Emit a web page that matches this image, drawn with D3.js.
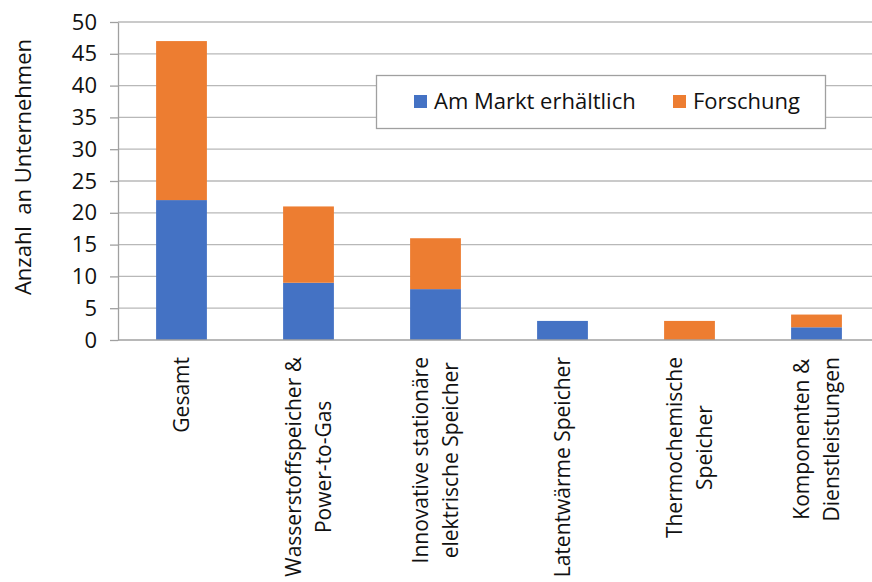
<!DOCTYPE html>
<html>
<head>
<meta charset="utf-8">
<script src="https://cdn.jsdelivr.net/npm/d3@7"></script>
<style>
  html, body { margin: 0; padding: 0; background: #fff; }
  svg { display: block; }
  text { font-family: "Open Sans", sans-serif; fill: #111; }
</style>
</head>
<body>
<div id="chart"></div>
<script>
// ---- data ----
const categories = [
  "Gesamt",
  "Wasserstoffspeicher &\nPower-to-Gas",
  "Innovative stationäre\nelektrische Speicher",
  "Latentwärme Speicher",
  "Thermochemische\nSpeicher",
  "Komponenten &\nDienstleistungen"
];
const amMarkt   = [22, 9, 8, 3, 0, 2];
const forschung = [25, 12, 8, 0, 3, 2];
const seriesNames = ["Am Markt erhältlich", "Forschung"];
const seriesColors = ["#4472C4", "#ED7D31"];
const yTicks = [0, 5, 10, 15, 20, 25, 30, 35, 40, 45, 50];
const yTitle = "Anzahl  an Unternehmen";

// ---- layout ----
const W = 872, H = 582;
const plot = { left: 118, right: 880, top: 22, bottom: 340 };

const svg = d3.select("#chart").append("svg")
  .attr("width", W).attr("height", H);

const x = d3.scaleBand()
  .domain(categories)
  .range([plot.left, plot.right])
  .paddingInner(0.6)
  .paddingOuter(0.3);

const y = d3.scaleLinear()
  .domain([0, 50])
  .range([plot.bottom, plot.top]);

// gridlines
svg.append("g")
  .selectAll("line")
  .data(yTicks.filter(d => d !== 0))
  .join("line")
  .attr("x1", plot.left).attr("x2", plot.right)
  .attr("y1", d => y(d)).attr("y2", d => y(d))
  .attr("stroke", "#b8b8b8").attr("stroke-width", 1.3);

// stacked bars
const rows = categories.map((c, i) => ({ cat: c, a: amMarkt[i], f: forschung[i] }));
const stack = d3.stack().keys(["a", "f"])(rows);

svg.append("g")
  .selectAll("g")
  .data(stack)
  .join("g")
  .attr("fill", (d, i) => seriesColors[i])
  .selectAll("rect")
  .data(d => d)
  .join("rect")
  .attr("x", d => x(d.data.cat))
  .attr("width", x.bandwidth())
  .attr("y", d => y(d[1]))
  .attr("height", d => y(d[0]) - y(d[1]));

// y axis
const yAxis = svg.append("g")
  .attr("transform", `translate(${plot.left},0)`)
  .call(d3.axisLeft(y).tickValues(yTicks).tickSize(8).tickSizeOuter(0).tickPadding(13));
yAxis.select(".domain").attr("stroke", "#a0a0a0").attr("stroke-width", 1.3);
yAxis.selectAll(".tick line").attr("stroke", "#a0a0a0").attr("stroke-width", 1.3);
yAxis.selectAll(".tick text")
  .style("font-family", "'Open Sans', sans-serif")
  .style("font-size", "22px")
  .attr("fill", "#111");

// x axis baseline
svg.append("line")
  .attr("x1", plot.left).attr("x2", plot.right)
  .attr("y1", y(0)).attr("y2", y(0))
  .attr("stroke", "#a0a0a0").attr("stroke-width", 1.3);

// category labels (rotated, multi-line centred)
const labelTop = 357, lineGap = 30;
categories.forEach(c => {
  const lines = c.split("\n");
  const cx = x(c) + x.bandwidth() / 2;
  const g = svg.append("g")
    .attr("transform", `translate(${cx},${labelTop}) rotate(-90)`);
  const texts = lines.map((ln, i) => g.append("text")
    .attr("text-anchor", "middle")
    .style("font-size", "21px")
    .attr("y", 7 + (i - (lines.length - 1) / 2) * lineGap)
    .text(ln));
  const maxLen = d3.max(texts, t => t.node().getComputedTextLength());
  texts.forEach(t => t.attr("x", -maxLen / 2));
});

// y title
svg.append("text")
  .attr("transform", `translate(31,167) rotate(-90)`)
  .attr("text-anchor", "middle")
  .style("font-size", "22px")
  .style("white-space", "pre")
  .text(yTitle);

// legend
const lg = svg.append("g");
lg.append("rect")
  .attr("x", 376.5).attr("y", 75.5).attr("width", 449).attr("height", 53)
  .attr("fill", "#fff").attr("stroke", "#a0a0a0").attr("stroke-width", 1.3);
const legendX = [414, 673];
seriesNames.forEach((n, i) => {
  lg.append("rect")
    .attr("x", legendX[i]).attr("y", 95)
    .attr("width", 13).attr("height", 13)
    .attr("fill", seriesColors[i]);
  lg.append("text")
    .attr("x", legendX[i] + 20).attr("y", 108.5)
    .style("font-size", "22px")
    .text(n);
});
</script>
</body>
</html>
